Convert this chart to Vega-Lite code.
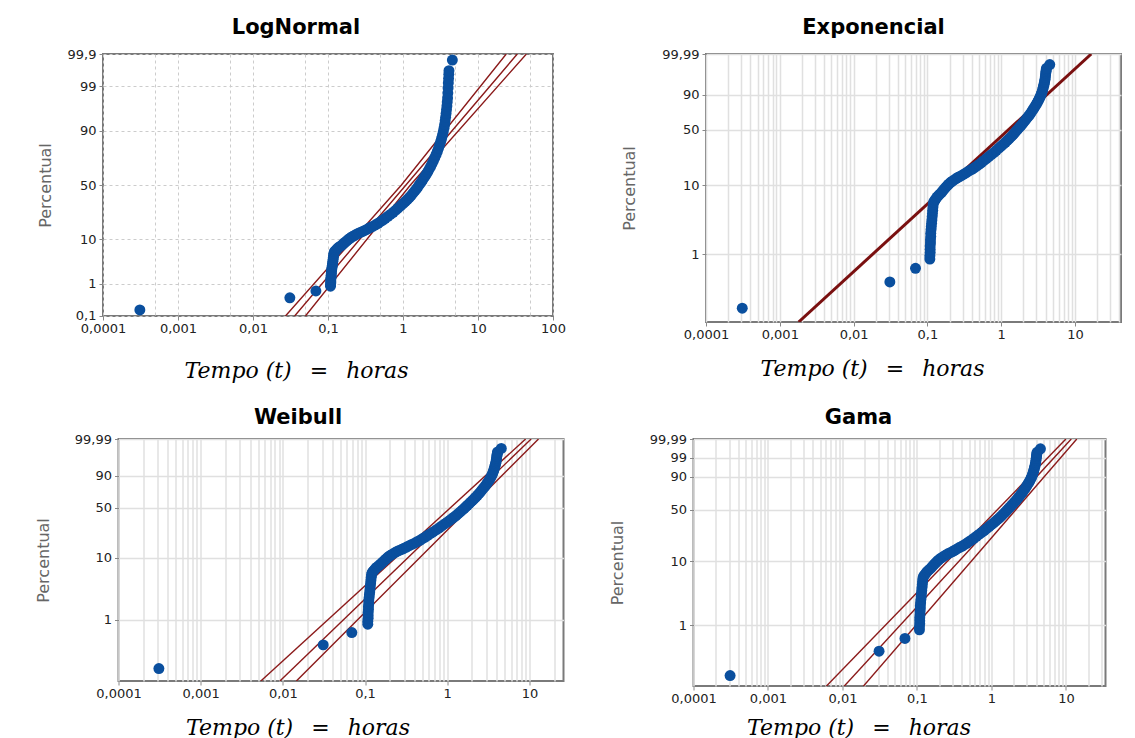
{
  "$schema": "https://vega.github.io/schema/vega-lite/v6.json",
  "background": "white",
  "padding": {"left": 34, "top": 16, "right": 5, "bottom": 0},
  "center": true,
  "spacing": 24,
  "config": {
    "view": {"stroke": "#7a7a7a", "strokeWidth": 2},
    "axis": {"labelFont": "DejaVu Sans", "labelFontSize": 13, "labelColor": "#222222", "tickColor": "#888888", "tickSize": 4, "domain": false, "gridColor": "#e0e0e0", "gridWidth": 1.5, "labelFlush": false, "labelOverlap": false},
    "axisY": {"titleFont": "DejaVu Sans", "titleFontSize": 16, "titleColor": "#666666", "titleFontWeight": "normal", "labelPadding": 3},
    "axisX": {"titleFont": "DejaVu Serif", "titleFontStyle": "italic", "titleFontSize": 22, "titleColor": "#000000", "titleFontWeight": "normal", "labelPadding": 2},
    "title": {"font": "DejaVu Sans", "fontSize": 21, "fontWeight": "bold", "color": "#000000", "offset": 10, "frame": "group", "anchor": "middle"}
  },
  "datasets": {
    "emp": [
      {"t": 0.00031, "p": 0.16}, {"t": 0.031, "p": 0.39}, {"t": 0.069, "p": 0.62},
      {"t": 0.108, "p": 0.85}, {"t": 0.108, "p": 0.95}, {"t": 0.109, "p": 1.06}, {"t": 0.109, "p": 1.18}, {"t": 0.109, "p": 1.32},
      {"t": 0.11, "p": 1.47}, {"t": 0.11, "p": 1.64}, {"t": 0.111, "p": 1.83}, {"t": 0.111, "p": 2.04}, {"t": 0.112, "p": 2.28},
      {"t": 0.113, "p": 2.55}, {"t": 0.114, "p": 2.84}, {"t": 0.115, "p": 3.17}, {"t": 0.116, "p": 3.54}, {"t": 0.117, "p": 3.95},
      {"t": 0.118, "p": 4.4}, {"t": 0.119, "p": 4.9}, {"t": 0.12, "p": 5.4}, {"t": 0.122, "p": 5.8},
      {"t": 0.126, "p": 6.1}, {"t": 0.13, "p": 6.4}, {"t": 0.135, "p": 6.8}, {"t": 0.14, "p": 7.1}, {"t": 0.147, "p": 7.5},
      {"t": 0.155, "p": 7.9}, {"t": 0.162, "p": 8.4}, {"t": 0.17, "p": 8.9}, {"t": 0.178, "p": 9.4}, {"t": 0.186, "p": 9.9},
      {"t": 0.195, "p": 10.4}, {"t": 0.205, "p": 10.9}, {"t": 0.215, "p": 11.3}, {"t": 0.23, "p": 11.9}, {"t": 0.245, "p": 12.4},
      {"t": 0.26, "p": 12.9}, {"t": 0.28, "p": 13.4}, {"t": 0.3, "p": 13.9}, {"t": 0.32, "p": 14.5}, {"t": 0.345, "p": 15.2},
      {"t": 0.37, "p": 15.9}, {"t": 0.4, "p": 16.6}, {"t": 0.43, "p": 17.4}, {"t": 0.465, "p": 18.3}, {"t": 0.5, "p": 19.3},
      {"t": 0.54, "p": 20.4}, {"t": 0.58, "p": 21.6}, {"t": 0.63, "p": 23}, {"t": 0.68, "p": 24.4}, {"t": 0.74, "p": 26},
      {"t": 0.8, "p": 27.6}, {"t": 0.86, "p": 29.3}, {"t": 0.93, "p": 31.2}, {"t": 1.0, "p": 33}, {"t": 1.07, "p": 34.8},
      {"t": 1.14, "p": 36.6}, {"t": 1.21, "p": 38.4}, {"t": 1.28, "p": 40.2}, {"t": 1.36, "p": 42.3}, {"t": 1.44, "p": 44.4},
      {"t": 1.52, "p": 46.6}, {"t": 1.6, "p": 48.8}, {"t": 1.68, "p": 51}, {"t": 1.76, "p": 53}, {"t": 1.85, "p": 55.3},
      {"t": 1.94, "p": 57.5}, {"t": 2.03, "p": 59.7}, {"t": 2.13, "p": 62}, {"t": 2.23, "p": 64.4}, {"t": 2.33, "p": 66.7},
      {"t": 2.43, "p": 69}, {"t": 2.54, "p": 71.5}, {"t": 2.65, "p": 74}, {"t": 2.76, "p": 76.3}, {"t": 2.87, "p": 78.6},
      {"t": 2.98, "p": 80.8}, {"t": 3.08, "p": 82.8}, {"t": 3.18, "p": 84.7}, {"t": 3.27, "p": 86.4}, {"t": 3.36, "p": 88},
      {"t": 3.44, "p": 89.5}, {"t": 3.52, "p": 91}, {"t": 3.59, "p": 92.3}, {"t": 3.65, "p": 93.5}, {"t": 3.7, "p": 94.5},
      {"t": 3.75, "p": 95.4}, {"t": 3.8, "p": 96.2}, {"t": 3.85, "p": 96.9}, {"t": 3.89, "p": 97.5}, {"t": 3.93, "p": 98},
      {"t": 3.96, "p": 98.5}, {"t": 3.99, "p": 98.9}, {"t": 4.02, "p": 99.2}, {"t": 4.05, "p": 99.4}, {"t": 4.08, "p": 99.55},
      {"t": 4.1, "p": 99.65}, {"t": 4.55, "p": 99.84}
    ],
    "fit": [
      {"panel": "LogNormal", "line": "l", "t": 0.0271, "p": 0.1}, {"panel": "LogNormal", "line": "l", "t": 0.953, "p": 50}, {"panel": "LogNormal", "line": "l", "t": 23.8, "p": 99.9},
      {"panel": "LogNormal", "line": "c", "t": 0.0359, "p": 0.1}, {"panel": "LogNormal", "line": "c", "t": 1.094, "p": 50}, {"panel": "LogNormal", "line": "c", "t": 33.4, "p": 99.9},
      {"panel": "LogNormal", "line": "r", "t": 0.05, "p": 0.1}, {"panel": "LogNormal", "line": "r", "t": 1.256, "p": 50}, {"panel": "LogNormal", "line": "r", "t": 44.2, "p": 99.9},
      {"panel": "Exponencial", "line": "c", "t": 0.0018, "p": 0.1}, {"panel": "Exponencial", "line": "c", "t": 16.6, "p": 99.99},
      {"panel": "Weibull", "line": "l", "t": 0.0054, "p": 0.1}, {"panel": "Weibull", "line": "l", "t": 9.0, "p": 99.99},
      {"panel": "Weibull", "line": "c", "t": 0.0092, "p": 0.1}, {"panel": "Weibull", "line": "c", "t": 10.5, "p": 99.99},
      {"panel": "Weibull", "line": "r", "t": 0.0146, "p": 0.1}, {"panel": "Weibull", "line": "r", "t": 12.9, "p": 99.99},
      {"panel": "Gama", "line": "l", "t": 0.00568, "p": 0.1}, {"panel": "Gama", "line": "l", "t": 10.0, "p": 99.99},
      {"panel": "Gama", "line": "c", "t": 0.0099, "p": 0.1}, {"panel": "Gama", "line": "c", "t": 11.8, "p": 99.99},
      {"panel": "Gama", "line": "r", "t": 0.018, "p": 0.1}, {"panel": "Gama", "line": "r", "t": 14.0, "p": 99.99}
    ]
  },
  "vconcat": [
    {
      "spacing": 53,
      "hconcat": [
        {
          "width": 450, "height": 262,
          "title": {"text": "LogNormal", "dx": -32},
          "layer": [
            {
              "data": {"name": "fit"},
              "transform": [{"filter": "datum.panel === 'LogNormal'"}, {"calculate": "quantileNormal(datum.p / 100)", "as": "y"}],
              "mark": {"type": "line", "clip": true, "color": "#8b1a1a", "strokeWidth": 1.4},
              "encoding": {
                "x": {"field": "t", "type": "quantitative", "scale": {"type": "log", "domain": [0.0001, 100], "nice": false},
                  "axis": {"title": "Tempo (t) \u2002= \u2002horas", "values": [0.0001, 0.0005, 0.001, 0.005, 0.01, 0.05, 0.1, 0.5, 1, 5, 10, 50, 100],
                    "labelExpr": "abs(log(datum.value) / LN10 - round(log(datum.value) / LN10)) < 0.001 ? replace(toString(datum.value), '.', ',') : ''",
                    "tickOpacity": {"condition": {"test": "abs(log(datum.value) / LN10 - round(log(datum.value) / LN10)) < 0.001", "value": 1}, "value": 0},
                    "gridDash": [3, 3], "gridColor": "#cccccc", "gridWidth": 1, "titleX": 193, "titlePadding": 25}},
                "y": {"field": "y", "type": "quantitative", "scale": {"domain": [-3.0903, 3.0903], "nice": false, "zero": false},
                  "axis": {"title": "Percentual", "values": [-3.0902, -2.3263, -1.2816, 0, 1.2816, 2.3263, 3.0902],
                    "labelExpr": "datum.value < -3 ? '0,1' : datum.value < -2 ? '1' : datum.value < -1 ? '10' : datum.value < 0.5 ? '50' : datum.value < 2 ? '90' : datum.value < 3 ? '99' : '99,9'",
                    "gridDash": [3, 3], "gridColor": "#cccccc", "gridWidth": 1, "titlePadding": 14}},
                "detail": {"field": "line"},
                "order": {"field": "p", "type": "quantitative"}
              }
            },
            {
              "data": {"name": "emp"},
              "transform": [{"calculate": "quantileNormal(datum.p / 100)", "as": "y"}],
              "mark": {"type": "circle", "size": 120, "opacity": 1, "color": "#0a4f9e"},
              "encoding": {"x": {"field": "t", "type": "quantitative"}, "y": {"field": "y", "type": "quantitative"}}
            }
          ]
        },
        {
          "width": 415, "height": 268,
          "title": {"text": "Exponencial", "dx": -40},
          "layer": [
            {
              "data": {"name": "fit"},
              "transform": [{"filter": "datum.panel === 'Exponencial'"}, {"calculate": "log(-log(1 - datum.p / 100))", "as": "y"}],
              "mark": {"type": "line", "clip": true, "color": "#7a1010", "strokeWidth": 3},
              "encoding": {
                "x": {"field": "t", "type": "quantitative", "scale": {"type": "log", "domain": [0.0001, 42], "nice": false},
                  "axis": {"title": "Tempo (t) \u2002= \u2002horas", "values": [0.0001, 0.0002, 0.0003, 0.0004, 0.0005, 0.0006, 0.0007, 0.0008, 0.0009, 0.001, 0.002, 0.003, 0.004, 0.005, 0.006, 0.007, 0.008, 0.009, 0.01, 0.02, 0.03, 0.04, 0.05, 0.06, 0.07, 0.08, 0.09, 0.1, 0.2, 0.3, 0.4, 0.5, 0.6, 0.7, 0.8, 0.9, 1, 2, 3, 4, 5, 6, 7, 8, 9, 10, 20, 30, 40],
                    "labelExpr": "abs(log(datum.value) / LN10 - round(log(datum.value) / LN10)) < 0.001 ? replace(toString(datum.value), '.', ',') : ''",
                    "tickOpacity": {"condition": {"test": "abs(log(datum.value) / LN10 - round(log(datum.value) / LN10)) < 0.001", "value": 1}, "value": 0},
                    "titleX": 166, "titlePadding": 17}},
                "y": {"field": "y", "type": "quantitative", "scale": {"domain": [-6.9073, 2.2204], "nice": false, "zero": false},
                  "axis": {"title": "Percentual", "values": [-4.6002, -2.2504, -0.3665, 0.834, 2.2203],
                    "labelExpr": "datum.value < -3 ? '1' : datum.value < -1 ? '10' : datum.value < 0.5 ? '50' : datum.value < 1.2 ? '90' : datum.value < 2 ? '99' : '99,99'",
                    "titlePadding": 24}},
                "detail": {"field": "line"},
                "order": {"field": "p", "type": "quantitative"}
              }
            },
            {
              "data": {"name": "emp"},
              "transform": [{"calculate": "log(-log(1 - datum.p / 100))", "as": "y"}],
              "mark": {"type": "circle", "size": 120, "opacity": 1, "color": "#0a4f9e"},
              "encoding": {"x": {"field": "t", "type": "quantitative"}, "y": {"field": "y", "type": "quantitative"}}
            }
          ]
        }
      ]
    },
    {
      "spacing": 43,
      "hconcat": [
        {
          "width": 445, "height": 242,
          "title": {"text": "Weibull", "dx": -43, "offset": 5},
          "layer": [
            {
              "data": {"name": "fit"},
              "transform": [{"filter": "datum.panel === 'Weibull'"}, {"calculate": "log(-log(1 - datum.p / 100))", "as": "y"}],
              "mark": {"type": "line", "clip": true, "color": "#8b1a1a", "strokeWidth": 1.4},
              "encoding": {
                "x": {"field": "t", "type": "quantitative", "scale": {"type": "log", "domain": [0.0001, 26], "nice": false},
                  "axis": {"title": "Tempo (t) \u2002= \u2002horas", "values": [0.0001, 0.0002, 0.0003, 0.0004, 0.0005, 0.0006, 0.0007, 0.0008, 0.0009, 0.001, 0.002, 0.003, 0.004, 0.005, 0.006, 0.007, 0.008, 0.009, 0.01, 0.02, 0.03, 0.04, 0.05, 0.06, 0.07, 0.08, 0.09, 0.1, 0.2, 0.3, 0.4, 0.5, 0.6, 0.7, 0.8, 0.9, 1, 2, 3, 4, 5, 6, 7, 8, 9, 10, 20],
                    "labelExpr": "abs(log(datum.value) / LN10 - round(log(datum.value) / LN10)) < 0.001 ? replace(toString(datum.value), '.', ',') : ''",
                    "tickOpacity": {"condition": {"test": "abs(log(datum.value) / LN10 - round(log(datum.value) / LN10)) < 0.001", "value": 1}, "value": 0},
                    "titleX": 179, "titlePadding": 17}},
                "y": {"field": "y", "type": "quantitative", "scale": {"domain": [-6.9073, 2.2204], "nice": false, "zero": false},
                  "axis": {"title": "Percentual", "values": [-4.6002, -2.2504, -0.3665, 0.834, 2.2203],
                    "labelExpr": "datum.value < -3 ? '1' : datum.value < -1 ? '10' : datum.value < 0.5 ? '50' : datum.value < 1.2 ? '90' : datum.value < 2 ? '99' : '99,99'",
                    "titlePadding": 23}},
                "detail": {"field": "line"},
                "order": {"field": "p", "type": "quantitative"}
              }
            },
            {
              "data": {"name": "emp"},
              "transform": [{"calculate": "log(-log(1 - datum.p / 100))", "as": "y"}],
              "mark": {"type": "circle", "size": 120, "opacity": 1, "color": "#0a4f9e"},
              "encoding": {"x": {"field": "t", "type": "quantitative"}, "y": {"field": "y", "type": "quantitative"}}
            }
          ]
        },
        {
          "width": 412, "height": 247,
          "title": {"text": "Gama", "dx": -41, "offset": 5},
          "layer": [
            {
              "data": {"name": "fit"},
              "transform": [{"filter": "datum.panel === 'Gama'"}, {"calculate": "log(-log(1 - datum.p / 100))", "as": "y"}],
              "mark": {"type": "line", "clip": true, "color": "#8b1a1a", "strokeWidth": 1.4},
              "encoding": {
                "x": {"field": "t", "type": "quantitative", "scale": {"type": "log", "domain": [0.0001, 34], "nice": false},
                  "axis": {"title": "Tempo (t) \u2002= \u2002horas", "values": [0.0001, 0.0002, 0.0003, 0.0004, 0.0005, 0.0006, 0.0007, 0.0008, 0.0009, 0.001, 0.002, 0.003, 0.004, 0.005, 0.006, 0.007, 0.008, 0.009, 0.01, 0.02, 0.03, 0.04, 0.05, 0.06, 0.07, 0.08, 0.09, 0.1, 0.2, 0.3, 0.4, 0.5, 0.6, 0.7, 0.8, 0.9, 1, 2, 3, 4, 5, 6, 7, 8, 9, 10, 20, 30],
                    "labelExpr": "abs(log(datum.value) / LN10 - round(log(datum.value) / LN10)) < 0.001 ? replace(toString(datum.value), '.', ',') : ''",
                    "tickOpacity": {"condition": {"test": "abs(log(datum.value) / LN10 - round(log(datum.value) / LN10)) < 0.001", "value": 1}, "value": 0},
                    "titleX": 165, "titlePadding": 12}},
                "y": {"field": "y", "type": "quantitative", "scale": {"domain": [-6.82, 2.2204], "nice": false, "zero": false},
                  "axis": {"title": "Percentual", "values": [-4.6002, -2.2504, -0.3665, 0.834, 1.5272, 2.2203],
                    "labelExpr": "datum.value < -3 ? '1' : datum.value < -1 ? '10' : datum.value < 0.5 ? '50' : datum.value < 1.2 ? '90' : datum.value < 2 ? '99' : '99,99'",
                    "titlePadding": 24}},
                "detail": {"field": "line"},
                "order": {"field": "p", "type": "quantitative"}
              }
            },
            {
              "data": {"name": "emp"},
              "transform": [{"calculate": "log(-log(1 - datum.p / 100))", "as": "y"}],
              "mark": {"type": "circle", "size": 120, "opacity": 1, "color": "#0a4f9e"},
              "encoding": {"x": {"field": "t", "type": "quantitative"}, "y": {"field": "y", "type": "quantitative"}}
            }
          ]
        }
      ]
    }
  ]
}
